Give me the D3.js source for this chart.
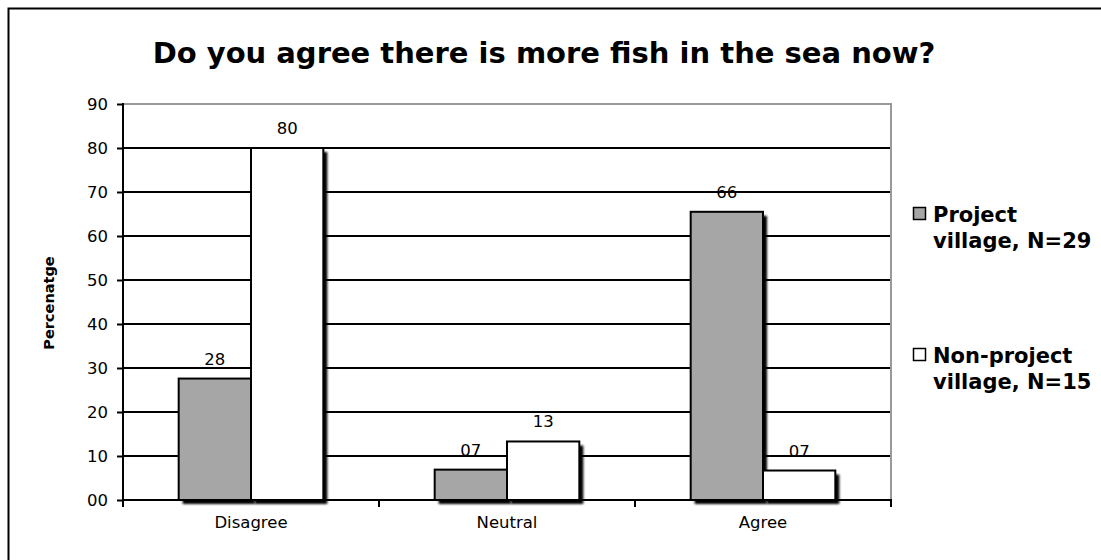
<!DOCTYPE html>
<html>
<head>
<meta charset="utf-8">
<script src="https://cdn.jsdelivr.net/npm/d3@7"></script>
<style>
  html, body { margin: 0; padding: 0; background: #fff; }
  svg { display: block; font-family: "DejaVu Sans", Verdana, sans-serif; }
</style>
</head>
<body>
<svg id="chart" width="1101" height="560"></svg>
<script>
// Survey responses, percent of respondents per village group
const categories = ["Disagree", "Neutral", "Agree"];
const seriesNames = ["Project village, N=29", "Non-project village, N=15"];
const projectValues = [27.6, 6.9, 65.5];
const nonProjectValues = [80, 13.3, 6.7];
const yTicks = [0, 10, 20, 30, 40, 50, 60, 70, 80, 90];
const legendLines = [["Project", "village, N=29"], ["Non-project", "village, N=15"]];

const seriesValues = [projectValues, nonProjectValues];
const fills = ["#a6a6a6", "#ffffff"];

const svg = d3.select("#chart");

// frame round the whole chart
svg.append("rect")
  .attr("x", 8.5).attr("y", 8.5)
  .attr("width", 1300).attr("height", 700)
  .attr("fill", "none").attr("stroke", "#000").attr("stroke-width", 2);

const plot = { left: 123, top: 104, right: 891, bottom: 500 };

const y = d3.scaleLinear().domain([0, 90]).range([plot.bottom, plot.top]);
const x0 = d3.scaleBand().domain(categories).range([plot.left, plot.right]).padding(0);
const groupFrac = 0.565;
const x1 = d3.scaleBand().domain(d3.range(seriesNames.length))
  .range([x0.bandwidth() * (1 - groupFrac) / 2, x0.bandwidth() * (1 + groupFrac) / 2])
  .padding(0);

const defs = svg.append("defs");
defs.append("filter").attr("id", "soft")
  .attr("x", "-20%").attr("y", "-5%").attr("width", "140%").attr("height", "110%")
  .append("feGaussianBlur").attr("stdDeviation", 0.9);

// title
svg.append("text")
  .attr("x", 544).attr("y", 63)
  .attr("text-anchor", "middle")
  .attr("font-size", 29).attr("font-weight", "bold")
  .text("Do you agree there is more fish in the sea now?");

// gridlines
const grid = svg.append("g");
grid.selectAll("line")
  .data(yTicks.filter(t => t > 0))
  .join("line")
  .attr("x1", plot.left).attr("x2", plot.right)
  .attr("y1", d => y(d)).attr("y2", d => y(d))
  .attr("stroke", d => d === 90 ? "#999" : "#000")
  .attr("stroke-width", 2);

// right edge of plot area
svg.append("line")
  .attr("x1", plot.right).attr("x2", plot.right)
  .attr("y1", plot.top - 1).attr("y2", plot.bottom)
  .attr("stroke", "#999").attr("stroke-width", 2);

// flattened bar records
const bars = [];
categories.forEach((c, ci) => {
  seriesValues.forEach((vals, si) => bars.push({ c, si, v: vals[ci] }));
});

// drop shadows behind every bar
svg.append("g").selectAll("rect")
  .data(bars)
  .join("rect")
  .attr("x", d => x0(d.c) + x1(d.si) + 4)
  .attr("y", d => y(d.v) + 4)
  .attr("width", x1.bandwidth())
  .attr("height", d => plot.bottom - y(d.v))
  .attr("fill", "#000")
  .attr("filter", "url(#soft)");

// bars
svg.append("g").selectAll("rect")
  .data(bars)
  .join("rect")
  .attr("x", d => x0(d.c) + x1(d.si))
  .attr("y", d => y(d.v))
  .attr("width", x1.bandwidth())
  .attr("height", d => plot.bottom - y(d.v))
  .attr("fill", d => fills[d.si])
  .attr("stroke", "#000")
  .attr("stroke-width", 2);

// value labels
const fmt = d3.format("02.0f");
svg.append("g").selectAll("text")
  .data(bars)
  .join("text")
  .attr("x", d => x0(d.c) + x1(d.si) + x1.bandwidth() / 2)
  .attr("y", d => y(d.v) - 14)
  .attr("text-anchor", "middle")
  .attr("font-size", 16.5)
  .text(d => fmt(d.v));

// y axis
const yAxis = svg.append("g")
  .attr("transform", `translate(${plot.left},0)`)
  .call(d3.axisLeft(y).tickValues(yTicks).tickFormat(d3.format("02d")).tickSize(6).tickPadding(9));
yAxis.select(".domain").attr("stroke-width", 2).attr("d", `M0,${plot.top - 1}V${plot.bottom + 1}`);
yAxis.selectAll(".tick line").attr("stroke-width", 2);
yAxis.selectAll(".tick text").attr("font-size", 16.5).attr("fill", "#000")
  .attr("font-family", "DejaVu Sans, Verdana, sans-serif");

// x axis with ticks at category boundaries
const xAxis = svg.append("g")
  .attr("transform", `translate(0,${plot.bottom})`);
xAxis.append("line")
  .attr("x1", plot.left - 1).attr("x2", plot.right + 1)
  .attr("stroke", "#000").attr("stroke-width", 2);
const bounds = categories.map(c => x0(c)).concat([plot.right]);
xAxis.selectAll("line.tk")
  .data(bounds)
  .join("line").attr("class", "tk")
  .attr("x1", d => d).attr("x2", d => d)
  .attr("y1", 0).attr("y2", 7)
  .attr("stroke", "#000").attr("stroke-width", 2);
xAxis.selectAll("text")
  .data(categories)
  .join("text")
  .attr("x", d => x0(d) + x0.bandwidth() / 2)
  .attr("y", 28)
  .attr("text-anchor", "middle")
  .attr("font-size", 16.5)
  .text(d => d);

// y axis title
svg.append("text")
  .attr("transform", "translate(54,303) rotate(-90)")
  .attr("text-anchor", "middle")
  .attr("font-size", 14.5).attr("font-weight", "bold")
  .text("Percenatge");

// legend
const legend = svg.append("g");
const legendTop = [207, 348];
legendLines.forEach((lines, i) => {
  const g = legend.append("g").attr("transform", `translate(913,${legendTop[i]})`);
  g.append("rect")
    .attr("x", 0.5).attr("y", 0.5).attr("width", 12).attr("height", 12)
    .attr("fill", fills[i]).attr("stroke", "#000").attr("stroke-width", 1.5);
  const t = g.append("text")
    .attr("font-size", 21).attr("font-weight", "bold");
  lines.forEach((ln, k) => {
    t.append("tspan").attr("x", 20).attr("y", 15 + k * 26).text(ln);
  });
});
</script>
</body>
</html>
